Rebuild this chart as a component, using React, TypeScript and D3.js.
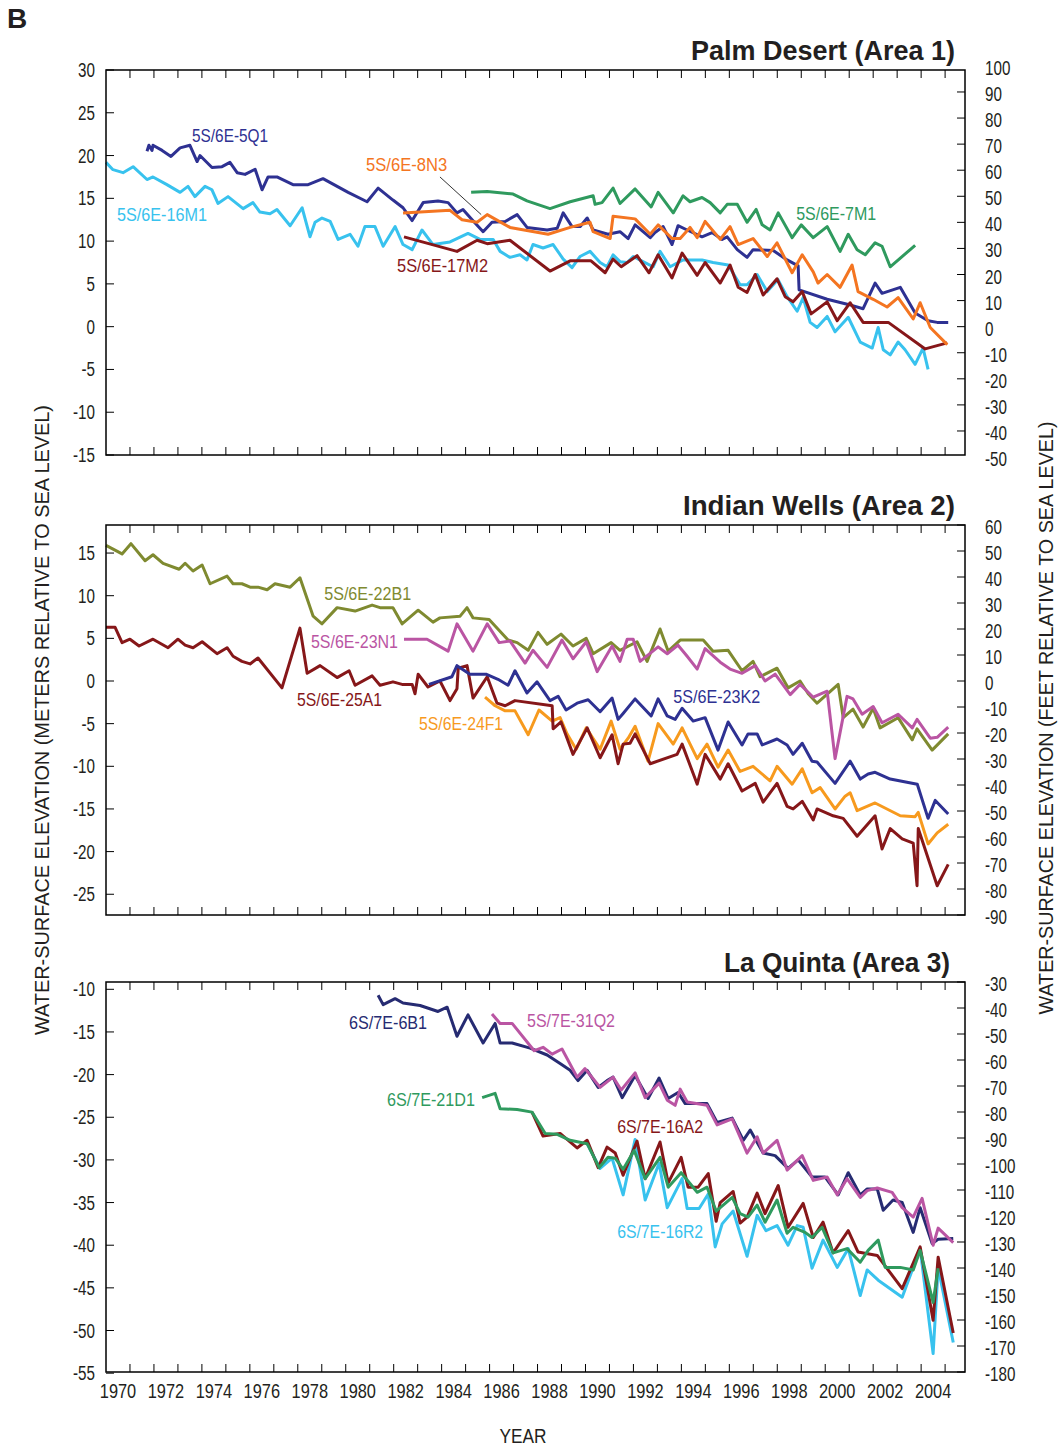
import React from "react";
import * as d3 from "d3";

type Pt = [number, number];

// ---------- Panel 1: Palm Desert (Area 1) ----------
const P1_16M1: Pt[] = [[1970.0,19.2],[1970.29,18.35],[1970.71,18.0],[1971.13,18.7],[1971.71,17.2],[1971.96,17.5],[1972.54,16.6],[1973.09,15.7],[1973.42,16.4],[1973.71,15.2],[1974.13,16.4],[1974.42,16.0],[1974.67,14.4],[1975.09,15.2],[1975.72,13.8],[1976.13,14.5],[1976.42,13.4],[1976.84,13.2],[1977.13,13.7],[1977.68,11.8],[1978.18,13.9],[1978.51,10.5],[1978.72,12.2],[1979.01,12.7],[1979.35,12.3],[1979.68,10.2],[1980.18,10.8],[1980.51,9.4],[1980.8,11.7],[1981.22,11.7],[1981.56,9.4],[1982.06,11.7],[1982.39,9.6],[1982.77,9.0],[1983.18,11.3],[1983.64,9.6],[1984.35,9.9],[1985.1,10.9],[1985.6,10.2],[1986.15,10.2],[1986.44,8.8],[1986.85,8.1],[1987.27,8.4],[1987.56,7.8],[1987.81,9.6],[1988.23,9.2],[1988.65,9.6],[1989.07,7.9],[1989.44,6.9],[1989.77,8.2],[1990.19,8.8],[1990.61,7.5],[1990.9,7.0],[1991.15,8.4],[1991.44,7.6],[1991.74,7.5],[1991.99,8.2],[1992.4,7.6],[1992.82,7.0],[1993.11,8.8],[1993.53,7.0],[1994.07,7.8],[1994.86,7.8],[1995.32,7.5],[1995.95,7.2],[1996.45,4.9],[1996.74,4.9],[1997.16,6.1],[1997.58,4.1],[1998.03,5.5],[1998.41,3.5],[1998.83,1.8],[1999.08,3.4],[1999.37,0.5],[1999.66,-0.1],[2000.08,1.2],[2000.41,-0.6],[2000.96,1.1],[2001.46,-1.8],[2001.96,-2.5],[2002.21,-0.1],[2002.42,-2.7],[2002.71,-3.3],[2003.04,-1.8],[2003.33,-2.7],[2003.75,-4.4],[2004.08,-2.5],[2004.29,-5.0]];

const P1_5Q1: Pt[] = [[1971.71,20.5],[1971.79,21.2],[1971.92,20.6],[1971.96,21.2],[1972.34,20.6],[1972.71,19.9],[1973.09,20.9],[1973.5,21.2],[1973.8,19.3],[1973.92,20.0],[1974.42,18.6],[1974.84,18.7],[1975.17,19.2],[1975.47,18.0],[1975.8,17.8],[1976.22,18.4],[1976.51,16.0],[1976.76,17.5],[1977.13,17.5],[1977.8,16.6],[1978.43,16.6],[1979.05,17.3],[1980.1,15.7],[1980.89,14.6],[1981.35,16.2],[1981.97,14.8],[1982.39,13.9],[1982.77,12.4],[1983.23,14.5],[1983.85,14.7],[1984.27,14.5],[1984.64,13.3],[1984.89,13.7],[1985.27,12.5],[1985.73,11.1],[1986.1,12.2],[1986.65,12.3],[1987.15,13.1],[1987.56,11.6],[1988.4,11.3],[1988.82,11.5],[1989.07,13.3],[1989.44,11.7],[1989.78,11.7],[1990.07,12.7],[1990.32,11.3],[1990.94,10.8],[1991.44,11.1],[1991.78,10.3],[1992.07,11.9],[1992.7,10.4],[1992.9,11.0],[1993.24,11.7],[1993.61,9.6],[1993.86,11.8],[1994.24,11.3],[1994.86,10.5],[1995.28,11.0],[1995.7,10.2],[1995.91,10.5],[1996.33,9.0],[1996.74,8.1],[1996.99,9.0],[1997.83,8.9],[1998.41,7.8],[1998.87,7.1],[1998.91,4.3],[2000.08,3.2],[2000.96,2.6],[2001.58,2.1],[2002.08,5.1],[2002.37,3.9],[2003.13,4.6],[2003.75,1.6],[2004.29,0.7],[2004.67,0.5],[2005.13,0.5]];

const P1_8N3: Pt[] = [[1982.39,13.3],[1984.35,13.6],[1984.85,12.5],[1985.48,12.2],[1985.9,13.1],[1986.85,11.6],[1988.44,10.8],[1989.36,11.6],[1990.19,12.2],[1990.32,11.1],[1991.03,10.3],[1991.15,12.9],[1992.07,12.6],[1992.7,10.8],[1993.03,11.9],[1993.61,10.3],[1993.95,10.3],[1994.36,11.6],[1994.66,10.4],[1994.99,12.3],[1995.62,10.2],[1996.03,11.7],[1996.37,9.6],[1996.99,10.3],[1997.58,8.2],[1997.99,9.8],[1998.62,6.3],[1999.04,8.4],[1999.5,6.4],[1999.7,5.1],[2000.08,6.1],[2000.62,4.6],[2001.12,7.2],[2001.37,4.1],[2002.0,3.2],[2002.58,2.3],[2003.04,3.4],[2003.67,0.9],[2003.96,2.8],[2004.38,-0.1],[2005.09,-2.1]];

const P1_7M1: Pt[] = [[1985.23,15.7],[1985.9,15.8],[1986.98,15.5],[1987.56,14.7],[1988.52,13.8],[1989.36,14.6],[1990.32,15.3],[1990.4,14.3],[1990.69,14.5],[1991.15,16.2],[1991.44,14.4],[1992.07,16.1],[1992.74,14.0],[1993.03,15.7],[1993.66,13.3],[1994.07,15.3],[1994.36,14.6],[1994.86,15.1],[1995.2,14.5],[1995.62,13.3],[1995.91,14.3],[1996.33,14.3],[1996.74,12.2],[1997.12,13.7],[1997.37,11.9],[1997.7,11.3],[1998.04,13.3],[1998.62,10.4],[1999.0,11.9],[1999.5,10.4],[2000.08,11.7],[2000.62,8.8],[2000.96,10.8],[2001.33,9.0],[2001.67,8.4],[2002.08,9.8],[2002.37,9.4],[2002.71,7.0],[2003.75,9.5]];

const P1_17M2: Pt[] = [[1982.43,10.5],[1984.64,8.8],[1985.48,10.1],[1985.9,9.7],[1986.85,10.1],[1988.52,6.5],[1989.36,7.7],[1990.23,7.7],[1990.82,6.3],[1991.15,7.9],[1991.49,7.0],[1992.15,8.3],[1992.65,6.3],[1993.03,8.4],[1993.61,5.7],[1994.03,8.6],[1994.66,6.0],[1994.99,7.5],[1995.62,5.1],[1996.03,7.2],[1996.37,4.6],[1996.74,4.0],[1997.08,6.1],[1997.41,3.7],[1997.99,5.6],[1998.33,3.5],[1998.66,2.9],[1999.04,4.1],[1999.41,1.5],[2000.08,2.9],[2000.5,0.7],[2001.04,2.8],[2001.58,0.5],[2002.63,0.5],[2004.17,-2.6],[2005.09,-1.9]];

// ---------- Panel 2: Indian Wells (Area 2) ----------
const P2_22B1: Pt[] = [[1970.0,15.9],[1970.67,14.9],[1971.04,16.1],[1971.63,14.1],[1971.96,14.8],[1972.38,13.8],[1973.05,13.1],[1973.3,13.8],[1973.63,12.9],[1974.01,13.6],[1974.34,11.4],[1975.05,12.3],[1975.3,11.4],[1975.67,11.4],[1976.01,11.0],[1976.34,11.0],[1976.72,10.7],[1977.05,11.4],[1977.68,11.0],[1978.09,12.1],[1978.64,7.6],[1979.01,6.7],[1979.64,8.6],[1980.39,8.2],[1981.1,8.9],[1981.43,8.6],[1981.97,8.6],[1982.35,6.7],[1983.02,8.3],[1983.64,6.9],[1983.93,7.4],[1984.77,7.6],[1985.06,8.6],[1985.31,7.4],[1985.98,7.2],[1986.77,4.8],[1987.15,4.5],[1987.61,3.6],[1988.02,5.7],[1988.4,4.3],[1988.98,5.5],[1989.48,4.1],[1990.03,5.0],[1990.32,3.2],[1991.07,4.5],[1991.44,3.6],[1992.15,4.6],[1992.57,2.3],[1993.11,6.1],[1993.45,3.5],[1993.95,4.8],[1994.91,4.8],[1995.32,3.5],[1995.95,3.6],[1996.53,1.2],[1996.99,2.3],[1997.28,0.5],[1997.99,1.5],[1998.45,-0.8],[1998.95,0.0],[1999.29,-1.5],[1999.66,-2.6],[2000.54,-0.4],[2000.75,-4.3],[2001.16,-3.3],[2001.58,-5.4],[2002.0,-3.2],[2002.29,-5.5],[2003.04,-4.3],[2003.63,-6.9],[2003.83,-5.6],[2004.46,-8.1],[2005.13,-6.2]];

const P2_23N1: Pt[] = [[1982.43,4.9],[1983.39,4.9],[1984.27,3.5],[1984.64,6.7],[1985.31,3.5],[1985.9,6.7],[1986.4,4.5],[1986.85,4.7],[1987.48,2.1],[1987.81,3.6],[1988.4,1.6],[1989.02,4.8],[1989.48,2.6],[1990.03,4.6],[1990.49,1.1],[1991.11,4.1],[1991.44,2.3],[1991.74,4.9],[1991.99,4.9],[1992.28,2.3],[1993.03,4.0],[1993.41,3.2],[1993.86,4.2],[1994.24,2.9],[1994.66,1.4],[1994.99,3.8],[1995.62,2.2],[1996.03,1.4],[1996.53,0.9],[1997.08,1.8],[1997.49,0.0],[1997.91,0.8],[1998.54,-1.6],[1998.95,-0.4],[1999.5,-1.9],[2000.08,-1.2],[2000.41,-9.1],[2000.91,-1.8],[2001.16,-2.1],[2001.54,-3.9],[2002.0,-3.0],[2002.37,-4.9],[2003.04,-3.9],[2003.63,-5.5],[2003.83,-4.5],[2004.38,-6.7],[2004.67,-6.6],[2005.13,-5.4]];

const P2_25A1: Pt[] = [[1970.0,6.3],[1970.38,6.3],[1970.67,4.5],[1971.0,4.9],[1971.38,4.1],[1971.96,4.9],[1972.59,3.9],[1973.0,4.9],[1973.3,4.2],[1973.63,3.9],[1974.01,4.6],[1974.63,3.2],[1975.05,3.9],[1975.3,2.9],[1975.67,2.3],[1976.01,2.0],[1976.34,2.7],[1977.34,-0.8],[1978.09,6.2],[1978.39,0.9],[1978.93,1.8],[1979.64,0.4],[1980.14,1.2],[1980.39,-0.5],[1981.1,0.6],[1981.43,-0.5],[1981.97,-0.1],[1982.35,-0.4],[1982.77,-0.4],[1982.89,-1.5],[1983.02,0.8],[1983.43,-0.7],[1983.93,0.0],[1984.35,-2.3],[1984.64,-0.9],[1984.69,1.5],[1985.06,1.8],[1985.31,-2.0],[1985.9,0.5],[1986.31,-2.6],[1986.65,-2.9],[1987.06,-2.3],[1988.61,-2.9],[1988.65,-5.6],[1988.98,-4.8],[1989.48,-8.6],[1990.07,-5.5],[1990.61,-9.0],[1991.11,-6.3],[1991.36,-9.7],[1991.57,-7.4],[1991.86,-7.3],[1992.07,-6.2],[1992.7,-9.7],[1993.82,-8.6],[1994.03,-7.4],[1994.66,-12.1],[1994.99,-8.6],[1995.62,-11.5],[1995.95,-9.7],[1996.53,-12.9],[1997.08,-12.0],[1997.41,-14.2],[1997.99,-12.0],[1998.41,-14.7],[1998.66,-15.0],[1999.04,-14.1],[1999.5,-16.3],[1999.66,-15.0],[2000.33,-15.8],[2000.75,-16.1],[2001.33,-18.2],[2002.08,-15.8],[2002.37,-19.7],[2002.71,-17.3],[2003.21,-18.5],[2003.67,-19.0],[2003.83,-24.0],[2003.88,-17.3],[2004.67,-24.0],[2005.13,-21.5]];

const P2_23K2: Pt[] = [[1983.47,-0.4],[1984.43,0.5],[1984.64,1.8],[1985.18,0.8],[1985.85,0.8],[1986.35,0.2],[1986.77,-0.5],[1987.06,1.2],[1987.56,-1.4],[1987.98,-0.1],[1988.52,-2.3],[1988.86,-1.8],[1989.19,-3.4],[1989.65,-2.6],[1990.11,-2.2],[1990.61,-3.6],[1991.11,-2.0],[1991.36,-4.5],[1991.57,-3.8],[1992.07,-2.1],[1992.74,-4.1],[1993.03,-2.1],[1993.41,-4.1],[1993.74,-4.5],[1994.03,-3.2],[1994.49,-4.7],[1994.99,-4.3],[1995.53,-8.1],[1995.95,-4.8],[1996.53,-7.5],[1996.78,-6.2],[1997.16,-6.2],[1997.37,-7.5],[1997.99,-6.8],[1998.41,-7.5],[1998.66,-8.6],[1999.04,-7.3],[1999.45,-9.4],[1999.66,-9.5],[2000.41,-12.0],[2001.04,-9.4],[2001.46,-11.5],[2001.79,-10.9],[2002.08,-10.7],[2002.71,-11.5],[2003.84,-12.1],[2004.29,-16.1],[2004.59,-14.0],[2005.13,-15.6]];

const P2_24F1: Pt[] = [[1985.81,-1.9],[1986.23,-2.9],[1986.65,-3.5],[1987.06,-3.5],[1987.61,-6.3],[1988.06,-3.4],[1988.61,-4.7],[1988.94,-4.3],[1989.23,-6.2],[1989.61,-8.0],[1990.03,-5.5],[1990.61,-8.0],[1991.07,-4.7],[1991.44,-8.0],[1991.78,-6.7],[1992.07,-5.3],[1992.61,-9.4],[1993.03,-5.0],[1993.66,-7.4],[1994.03,-5.5],[1994.66,-9.1],[1995.07,-7.4],[1995.53,-10.1],[1995.95,-8.1],[1996.45,-10.6],[1996.99,-10.0],[1997.7,-11.7],[1997.99,-10.0],[1998.62,-12.1],[1999.04,-10.3],[1999.45,-13.1],[1999.79,-12.5],[2000.41,-15.0],[2000.83,-13.5],[2001.04,-13.1],[2001.33,-15.2],[2002.08,-14.3],[2003.13,-15.8],[2003.75,-15.9],[2003.88,-15.4],[2004.29,-19.1],[2004.67,-17.8],[2005.13,-16.8]];

// ---------- Panel 3: La Quinta (Area 3) ----------
const P3_6B1: Pt[] = [[1981.35,-10.7],[1981.56,-11.8],[1982.06,-11.1],[1982.39,-11.6],[1983.1,-11.9],[1983.85,-12.6],[1984.23,-12.1],[1984.64,-15.5],[1985.1,-13.0],[1985.73,-16.3],[1986.23,-14.0],[1986.44,-16.3],[1986.94,-16.3],[1987.69,-16.9],[1988.4,-17.7],[1988.94,-18.7],[1989.36,-19.5],[1989.69,-20.7],[1990.07,-19.5],[1990.53,-21.5],[1990.9,-20.7],[1991.15,-20.3],[1991.53,-22.7],[1992.07,-20.1],[1992.61,-22.8],[1993.07,-20.4],[1993.45,-22.8],[1993.86,-22.1],[1994.16,-23.4],[1995.07,-23.4],[1995.49,-25.6],[1996.12,-25.1],[1996.58,-27.7],[1996.87,-26.5],[1997.41,-29.2],[1997.91,-29.5],[1998.45,-31.0],[1998.87,-30.0],[1999.45,-32.0],[1999.99,-32.0],[2000.54,-34.1],[2000.96,-31.5],[2001.46,-34.1],[2001.75,-33.4],[2002.17,-33.4],[2002.42,-35.9],[2002.83,-34.7],[2003.21,-35.0],[2003.67,-38.5],[2003.96,-35.6],[2004.46,-39.8],[2004.71,-39.3],[2005.34,-39.2]];

const P3_31Q2: Pt[] = [[1986.1,-12.9],[1986.44,-14.0],[1986.94,-14.0],[1987.86,-17.2],[1988.23,-16.8],[1988.61,-17.6],[1989.02,-17.0],[1989.65,-20.3],[1989.98,-19.3],[1990.61,-21.5],[1991.15,-20.3],[1991.49,-21.8],[1992.07,-19.8],[1992.49,-22.7],[1993.07,-21.0],[1993.41,-23.0],[1993.74,-23.6],[1993.95,-21.7],[1994.24,-23.2],[1995.07,-23.6],[1995.49,-25.9],[1996.12,-25.2],[1996.74,-29.2],[1997.16,-27.3],[1997.41,-29.2],[1997.99,-27.7],[1998.41,-31.2],[1999.04,-29.5],[1999.5,-32.4],[2000.08,-32.0],[2000.5,-34.1],[2000.91,-32.2],[2001.46,-34.4],[2001.75,-33.6],[2002.17,-33.3],[2002.79,-33.8],[2003.21,-35.6],[2003.67,-36.7],[2004.04,-34.5],[2004.5,-40.0],[2004.71,-38.0],[2005.34,-39.7]];

const P3_21D1: Pt[] = [[1985.69,-22.7],[1986.23,-22.2],[1986.44,-24.0],[1987.15,-24.1],[1987.77,-24.4],[1988.32,-26.9],[1988.82,-27.0],[1989.36,-27.7],[1990.07,-28.1],[1990.57,-30.9],[1990.94,-29.7],[1991.24,-29.8],[1991.57,-31.1],[1992.03,-28.9],[1992.49,-32.2],[1993.11,-29.7],[1993.45,-33.2],[1993.99,-31.5],[1994.66,-33.8],[1995.07,-33.2],[1995.45,-36.0],[1996.12,-34.4],[1996.45,-36.3],[1996.78,-36.7],[1997.16,-35.3],[1997.49,-37.3],[1997.99,-34.7],[1998.41,-38.6],[1998.66,-37.9],[1999.16,-38.5],[1999.45,-39.1],[1999.87,-37.9],[2000.33,-40.9],[2000.91,-40.4],[2001.46,-42.0],[2001.79,-40.6],[2002.21,-39.4],[2002.5,-42.6],[2003.13,-42.6],[2003.67,-42.9],[2003.96,-40.6],[2004.5,-46.7],[2004.71,-42.7]];

const P3_16A2: Pt[] = [[1987.77,-24.4],[1988.23,-27.2],[1988.94,-26.9],[1989.65,-28.6],[1990.07,-27.7],[1990.53,-30.9],[1990.9,-28.5],[1991.24,-29.2],[1991.57,-31.8],[1992.15,-27.8],[1992.49,-32.2],[1993.11,-27.9],[1993.45,-32.7],[1993.99,-29.7],[1994.28,-33.2],[1994.7,-33.2],[1995.12,-31.6],[1995.45,-37.2],[1995.62,-35.0],[1996.16,-33.7],[1996.45,-37.4],[1996.74,-36.7],[1997.16,-33.9],[1997.49,-36.3],[1998.04,-33.0],[1998.45,-37.9],[1999.08,-35.1],[1999.5,-39.1],[1999.91,-37.3],[2000.33,-40.9],[2000.96,-38.3],[2001.37,-40.8],[2002.17,-41.2],[2003.21,-45.1],[2003.96,-40.2],[2004.5,-48.8],[2004.71,-41.4],[2005.34,-50.3]];

const P3_16R2: Pt[] = [[1990.07,-28.1],[1990.61,-31.0],[1991.11,-29.8],[1991.57,-34.1],[1992.07,-27.6],[1992.49,-34.7],[1993.07,-30.4],[1993.41,-35.6],[1994.03,-32.2],[1994.24,-35.7],[1994.74,-35.7],[1995.12,-34.0],[1995.41,-40.2],[1995.7,-37.5],[1996.16,-36.0],[1996.74,-41.3],[1997.16,-36.5],[1997.53,-38.3],[1997.99,-37.7],[1998.45,-40.0],[1998.83,-37.7],[1999.08,-37.9],[1999.45,-42.7],[1999.91,-39.4],[2000.5,-42.6],[2000.96,-40.4],[2001.46,-45.9],[2001.75,-42.9],[2002.21,-44.1],[2003.21,-46.1],[2003.96,-40.4],[2004.5,-52.7],[2004.71,-42.6],[2005.34,-51.4]];

// ---------- Axes ----------
const YEAR_DOMAIN: [number, number] = [1970, 2005.83];
const YEAR_LABELS = d3.range(1970, 2005, 2);
const YEAR_TICKS = d3.range(1971, 2006, 1);
const P1_M_TICKS = [30, 25, 20, 15, 10, 5, 0, -5, -10, -15];
const P1_FT_TICKS = [100, 90, 80, 70, 60, 50, 40, 30, 20, 10, 0, -10, -20, -30, -40, -50];
const P2_M_TICKS = [15, 10, 5, 0, -5, -10, -15, -20, -25];
const P2_FT_TICKS = [60, 50, 40, 30, 20, 10, 0, -10, -20, -30, -40, -50, -60, -70, -80, -90];
const P3_M_TICKS = [-10, -15, -20, -25, -30, -35, -40, -45, -50, -55];
const P3_FT_TICKS = [-30, -40, -50, -60, -70, -80, -90, -100, -110, -120, -130, -140, -150, -160, -170, -180];

const FT_PER_M = 3.28084;

const C = {
  navy: "#2E3192",
  navy2: "#262B72",
  sky: "#38C2EE",
  orange: "#F47521",
  green: "#2F9A5E",
  red: "#861719",
  olive: "#7F8A30",
  magenta: "#BA55A3",
  amber: "#F79A1E",
};

const FONT = "'Liberation Sans','Arimo',Arial,sans-serif";
const INK = "#231F20";

type Series = { data: Pt[]; color: string; label: string; lx: number; ly: number; w: number };
type Panel = {
  title: string;
  titleW: number;
  titleRight: number;
  top: number;
  bottom: number;
  mDomain: [number, number];
  mTicks: number[];
  ftTicks: number[];
  series: Series[];
  leader?: [number, number, number, number];
};

const PANELS: Panel[] = [
  {
    title: "Palm Desert (Area 1)",
    titleW: 264,
    titleRight: 955,
    top: 70,
    bottom: 455,
    mDomain: [-15, 30],
    mTicks: P1_M_TICKS,
    ftTicks: P1_FT_TICKS,
    series: [
      { data: P1_16M1, color: C.sky, label: "5S/6E-16M1", lx: 1970.46, ly: 13.1, w: 90 },
      { data: P1_5Q1, color: C.navy, label: "5S/6E-5Q1", lx: 1973.59, ly: 22.3, w: 76 },
      { data: P1_7M1, color: C.green, label: "5S/6E-7M1", lx: 1998.79, ly: 13.2, w: 80 },
      { data: P1_17M2, color: C.red, label: "5S/6E-17M2", lx: 1982.14, ly: 7.1, w: 91 },
      { data: P1_8N3, color: C.orange, label: "5S/6E-8N3", lx: 1980.85, ly: 18.9, w: 81 },
    ],
    leader: [1983.93, 17.5, 1985.65, 13.1],
  },
  {
    title: "Indian Wells (Area 2)",
    titleW: 272,
    titleRight: 955,
    top: 525,
    bottom: 915,
    mDomain: [-90 / FT_PER_M, 60 / FT_PER_M],
    mTicks: P2_M_TICKS,
    ftTicks: P2_FT_TICKS,
    series: [
      { data: P2_24F1, color: C.amber, label: "5S/6E-24F1", lx: 1983.06, ly: -5.0, w: 84 },
      { data: P2_25A1, color: C.red, label: "5S/6E-25A1", lx: 1977.97, ly: -2.2, w: 85 },
      { data: P2_23K2, color: C.navy, label: "5S/6E-23K2", lx: 1993.66, ly: -1.9, w: 87 },
      { data: P2_22B1, color: C.olive, label: "5S/6E-22B1", lx: 1979.1, ly: 10.2, w: 87 },
      { data: P2_23N1, color: C.magenta, label: "5S/6E-23N1", lx: 1978.55, ly: 4.6, w: 87 },
    ],
  },
  {
    title: "La Quinta (Area 3)",
    titleW: 226,
    titleRight: 950,
    top: 982,
    bottom: 1372,
    mDomain: [-180 / FT_PER_M, -30 / FT_PER_M],
    mTicks: P3_M_TICKS,
    ftTicks: P3_FT_TICKS,
    series: [
      { data: P3_16R2, color: C.sky, label: "6S/7E-16R2", lx: 1991.32, ly: -38.4, w: 86 },
      { data: P3_16A2, color: C.red, label: "6S/7E-16A2", lx: 1991.32, ly: -26.2, w: 86 },
      { data: P3_21D1, color: C.green, label: "6S/7E-21D1", lx: 1981.72, ly: -23.0, w: 88 },
      { data: P3_6B1, color: C.navy2, label: "6S/7E-6B1", lx: 1980.14, ly: -14.0, w: 78 },
      { data: P3_31Q2, color: C.magenta, label: "5S/7E-31Q2", lx: 1987.56, ly: -13.75, w: 88 },
    ],
  },
];

const LEFT = 106;
const RIGHT = 965;

// condensed text via horizontal scaling about the anchor point
function CText(props: {
  x: number;
  y: number;
  sx?: number;
  size: number;
  anchor?: "start" | "middle" | "end";
  fill?: string;
  bold?: boolean;
  rotate?: number;
  children: React.ReactNode;
}) {
  const { x, y, sx = 0.78, size, anchor = "start", fill = INK, bold, rotate, children } = props;
  const tr = `translate(${x},${y})${rotate ? ` rotate(${rotate})` : ""} scale(${sx},1)`;
  return (
    <text
      transform={tr}
      textAnchor={anchor}
      fontSize={size}
      fontFamily={FONT}
      fontWeight={bold ? "bold" : "normal"}
      fill={fill}
    >
      {children}
    </text>
  );
}

function PanelView({ p, last }: { p: Panel; last: boolean }) {
  const x = d3.scaleLinear().domain(YEAR_DOMAIN).range([LEFT, RIGHT]);
  const y = d3.scaleLinear().domain(p.mDomain).range([p.bottom, p.top]);
  const line = d3
    .line<Pt>()
    .x((d) => x(d[0]))
    .y((d) => y(d[1]));
  const tl = 8;
  return (
    <g>
      {p.series.map((s) => (
        <path
          key={s.label}
          d={line(s.data) || ""}
          fill="none"
          stroke={s.color}
          strokeWidth={3}
          strokeLinejoin="round"
          strokeLinecap="butt"
        />
      ))}
      {p.series.map((s) => (
        <text
          key={s.label + "l"}
          x={x(s.lx)}
          y={y(s.ly) + 6}
          fill={s.color}
          fontSize={17.5}
          fontFamily={FONT}
          textLength={s.w}
          lengthAdjust="spacingAndGlyphs"
        >
          {s.label}
        </text>
      ))}
      {p.leader && (
        <line
          x1={x(p.leader[0])}
          y1={y(p.leader[1])}
          x2={x(p.leader[2])}
          y2={y(p.leader[3])}
          stroke="#000"
          strokeWidth={0.8}
        />
      )}
      <rect x={LEFT} y={p.top} width={RIGHT - LEFT} height={p.bottom - p.top} fill="none" stroke="#000" strokeWidth={1.5} />
      {YEAR_TICKS.map((t) => (
        <g key={"t" + t}>
          <line x1={x(t)} x2={x(t)} y1={p.top} y2={p.top + tl} stroke="#000" strokeWidth={1} />
          <line x1={x(t)} x2={x(t)} y1={p.bottom} y2={p.bottom - tl} stroke="#000" strokeWidth={1} />
        </g>
      ))}
      {p.mTicks.map((t) => (
        <g key={"m" + t}>
          <line x1={LEFT} x2={LEFT + tl} y1={y(t)} y2={y(t)} stroke="#000" strokeWidth={1} />
          <CText x={95} y={y(t) + 7} size={19.5} anchor="end">
            {t}
          </CText>
        </g>
      ))}
      {p.ftTicks.map((t) => {
        const m = t / FT_PER_M;
        const inside = m >= p.mDomain[0] - 0.01 && m <= p.mDomain[1] + 0.01;
        return (
          <g key={"f" + t}>
            {inside && <line x1={RIGHT} x2={RIGHT - tl} y1={y(m)} y2={y(m)} stroke="#000" strokeWidth={1} />}
            <CText x={985} y={y(m) + 9} size={19.5} anchor="start">
              {t}
            </CText>
          </g>
        );
      })}
      <text
        x={p.titleRight}
        y={p.top - 10}
        textAnchor="end"
        fontSize={28}
        fontWeight="bold"
        fontFamily={FONT}
        fill={INK}
        textLength={p.titleW}
        lengthAdjust="spacingAndGlyphs"
      >
        {p.title}
      </text>
      {last &&
        YEAR_LABELS.map((t) => (
          <CText key={"yl" + t} x={x(t + 0.5)} y={1398} size={20} sx={0.82} anchor="middle">
            {t}
          </CText>
        ))}
    </g>
  );
}

export default function App() {
  return (
    <svg
      width={1060}
      height={1450}
      viewBox="0 0 1060 1450"
      style={{ position: "absolute", left: 0, top: 0, background: "#fff" }}
    >
      <rect x={0} y={0} width={1060} height={1450} fill="#fff" />
      <text x={7} y={28} fontSize={28} fontWeight="bold" fontFamily={FONT} fill={INK}>
        B
      </text>
      {PANELS.map((p, i) => (
        <PanelView key={p.title} p={p} last={i === PANELS.length - 1} />
      ))}
      <text
        transform="translate(49,720) rotate(-90)"
        textAnchor="middle"
        fontSize={21}
        fontFamily={FONT}
        fill={INK}
        textLength={630}
        lengthAdjust="spacingAndGlyphs"
      >
        WATER-SURFACE ELEVATION (METERS RELATIVE TO SEA LEVEL)
      </text>
      <text
        transform="translate(1053,718) rotate(-90)"
        textAnchor="middle"
        fontSize={21}
        fontFamily={FONT}
        fill={INK}
        textLength={593}
        lengthAdjust="spacingAndGlyphs"
      >
        WATER-SURFACE ELEVATION (FEET RELATIVE TO SEA LEVEL)
      </text>
      <text
        x={523}
        y={1443}
        textAnchor="middle"
        fontSize={21}
        fontFamily={FONT}
        fill={INK}
        textLength={47}
        lengthAdjust="spacingAndGlyphs"
      >
        YEAR
      </text>
    </svg>
  );
}
